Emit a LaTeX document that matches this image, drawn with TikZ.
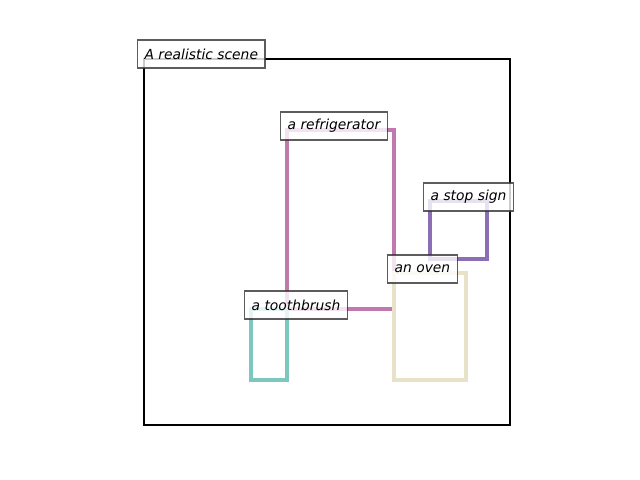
\documentclass[tikz,border=0pt]{standalone}
\usepackage{fontspec}
\setmainfont{DejaVu Sans}
\begin{document}
\begin{tikzpicture}[x=0.01in,y=-0.01in,
  lbl/.style={draw=black!80, line width=0.9pt, fill=white, fill opacity=0.8, text opacity=1,
    draw opacity=0.8, anchor=west, inner xsep=0.07in, inner ysep=0pt, minimum height=0.28in,
    font=\fontsize{10}{12}\selectfont\itshape},
  box/.style={line width=2.2pt}]
\useasboundingbox (0,0) rectangle (640,480);
\definecolor{cfridge}{RGB}{192,120,175}
\definecolor{cstop}{RGB}{140,110,180}
\definecolor{coven}{RGB}{232,226,200}
\definecolor{cbrush}{RGB}{125,200,190}
\draw[line width=2.1pt, black] (144,59) rectangle (510,425);
\draw[box, cfridge] (287,130) rectangle (394,309);
\draw[box, cstop] (430,201) rectangle (487,259);
\draw[box, coven] (394,273) rectangle (466,380);
\draw[box, cbrush] (251,309) rectangle (287,380);
\node[lbl] (scene) at (137,54) {A realistic scene};
\node[lbl] (fridge) at (280,126) {a refrigerator};
\node[lbl] (stop) at (423,197) {a stop sign};
\node[lbl] (oven) at (387,269) {an oven};
\node[lbl] (brush) at (244,305) {a toothbrush};
\end{tikzpicture}
\end{document}
